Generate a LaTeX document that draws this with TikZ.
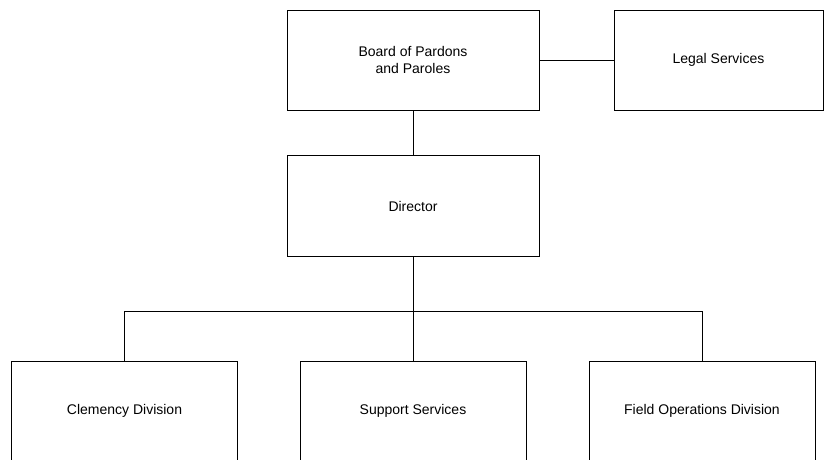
\documentclass[tikz,border=0pt]{standalone}
\usepackage{fontspec}
\setmainfont{Liberation Sans}
\begin{document}
\begin{tikzpicture}[line width=0.6pt,
    box/.style={draw, rectangle, align=center, font=\fontsize{10.5}{12.6}\selectfont, inner sep=0pt}]
        \def\x{0.75pt}
        \def\y{-0.75pt}
        \useasboundingbox (0*\x, 0*\y) rectangle (829*\x, 460*\y);
        \node[box, minimum width=252*\x, minimum height=100*0.75pt] (A0_1) at (413*\x, 60*\y) {Board of Pardons\\and Paroles};
        \node[box, minimum width=209*\x, minimum height=100*0.75pt] (A0_2) at (718.5*\x, 60*\y) {Legal Services};
        \node[box, minimum width=252*\x, minimum height=101*0.75pt] (A1_1) at (413*\x, 206*\y) {Director};
        \node[box, minimum width=226*\x, minimum height=100*0.75pt] (A2_0) at (124.5*\x, 411*\y) {Clemency Division};
        \node[box, minimum width=226*\x, minimum height=100*0.75pt] (A2_1) at (413*\x, 411*\y) {Support Services};
        \node[box, minimum width=226*\x, minimum height=100*0.75pt] (A2_2) at (702*\x, 411*\y) {Field Operations Division};
        \coordinate (B) at (413*\x, 311*\y);
        \path (A0_1) edge [-] (A0_2);
        \path (A0_1) edge [-] (A1_1);
        \path (A1_1.south) edge [-] (B);
        \draw (A2_0.north) -- (A2_0.north |- B) -- (A2_2.north |- B) -- (A2_2.north);
        \path (B) edge [-] (A2_1.north);
      \end{tikzpicture}
\end{document}
